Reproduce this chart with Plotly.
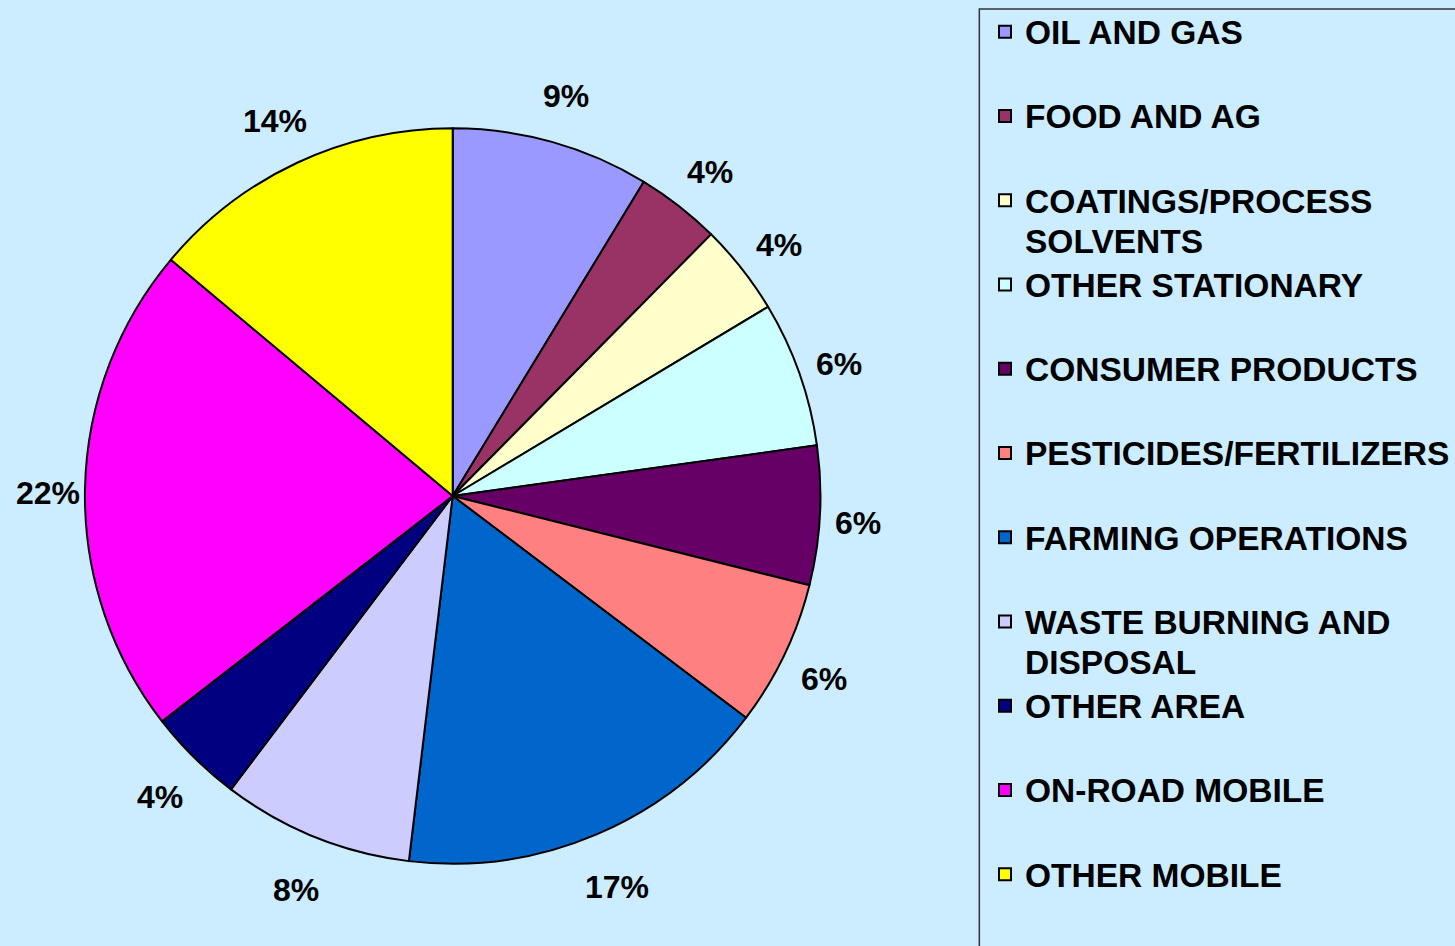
import math
import plotly.graph_objects as go

# ---------------- data ----------------
categories = [
    "OIL AND GAS", "FOOD AND AG", "COATINGS/PROCESS SOLVENTS", "OTHER STATIONARY",
    "CONSUMER PRODUCTS", "PESTICIDES/FERTILIZERS", "FARMING OPERATIONS",
    "WASTE BURNING AND DISPOSAL", "OTHER AREA", "ON-ROAD MOBILE", "OTHER MOBILE",
]
legend_lines = [
    ["OIL AND GAS"], ["FOOD AND AG"], ["COATINGS/PROCESS", "SOLVENTS"], ["OTHER STATIONARY"],
    ["CONSUMER PRODUCTS"], ["PESTICIDES/FERTILIZERS"], ["FARMING OPERATIONS"],
    ["WASTE BURNING AND", "DISPOSAL"], ["OTHER AREA"], ["ON-ROAD MOBILE"], ["OTHER MOBILE"],
]
shares = [8.7, 3.7, 4.0, 6.4, 6.1, 6.4, 16.6, 8.4, 4.2, 21.6, 13.9]
colors = ["#9999FF", "#993366", "#FFFFCC", "#CCFFFF", "#660066", "#FF8080",
          "#0066CC", "#CCCCFF", "#000080", "#FF00FF", "#FFFF00"]

# ---------------- layout constants ----------------
W, H = 1455, 946
BG = "#CCECFF"
FONT = "Liberation Sans, Arial, sans-serif"
CX, CY, R = 453, 496, 368          # pie centre / radius in pixels

def legend_label(lines):
    parts = [f"<span style='font-size:33.5px'>{t}</span>" for t in lines]
    if len(parts) == 1:
        parts.append(" ")
    return "<br>".join(parts)

labels = [legend_label(l) for l in legend_lines]

fig = go.Figure()
fig.add_trace(go.Pie(
    labels=labels,
    values=shares,
    customdata=categories,
    sort=False,
    direction="clockwise",
    rotation=0,
    marker=dict(colors=colors, line=dict(color="black", width=2)),
    textinfo="none",
    hovertemplate="%{customdata}: %{percent}<extra></extra>",
    domain=dict(x=[(CX - R) / W, (CX + R) / W],
                y=[(H - CY - R) / H, (H - CY + R) / H]),
))

# percentage labels outside each slice, placed from the cumulative shares
total = sum(shares)
annotations = []
cum = 0.0
for v in shares:
    mid = (cum + v / 2) / total * 2 * math.pi
    cum += v
    rr = 405 + 16 * abs(math.cos(mid))
    px = CX + rr * math.sin(mid)
    py = CY - rr * math.cos(mid)
    annotations.append(dict(
        x=px / W, y=1 - py / H, xref="paper", yref="paper",
        text=f"{round(v / total * 100)}%", showarrow=False,
        xanchor="center", yanchor="middle", yshift=-5,
        font=dict(family=FONT, size=32, color="black", weight="bold"),
    ))

fig.update_layout(
    width=W, height=H,
    paper_bgcolor=BG, plot_bgcolor=BG,
    margin=dict(l=0, r=0, t=0, b=0),
    showlegend=True,
    legend=dict(
        x=986 / W, y=1 - 5 / H, xanchor="left", yanchor="top",
        valign="top", bgcolor="rgba(0,0,0,0)", borderwidth=0,
        font=dict(family=FONT, size=31.25, color="black", weight="bold"),
        traceorder="normal",
    ),
    annotations=annotations,
    shapes=[dict(type="rect", xref="paper", yref="paper",
                 x0=980 / W, x1=1.02, y0=-0.02, y1=1 - 9 / H,
                 line=dict(color="#333333", width=1.5), fillcolor="rgba(0,0,0,0)",
                 layer="below")],
)

fig.write_html(
    "out.html",
    config={"displayModeBar": False},
    post_script="document.body.style.margin='0';document.body.style.background='%s';" % BG,
)
